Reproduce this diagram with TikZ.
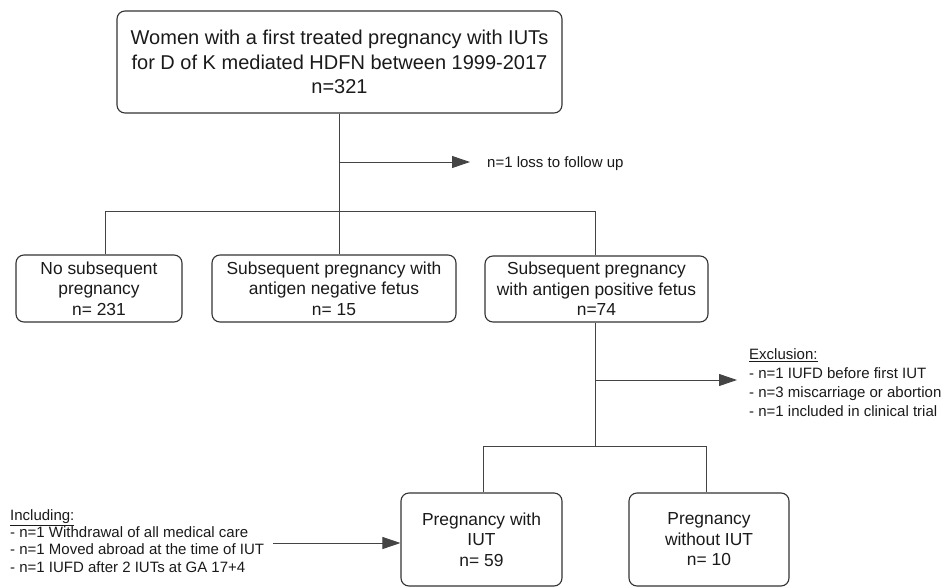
\documentclass[tikz,border=0pt]{standalone}
\usepackage{fontspec}
\setmainfont{Liberation Sans}
\usetikzlibrary{arrows.meta}
\definecolor{boxc}{HTML}{333333}
\definecolor{linec}{HTML}{444444}
\definecolor{txt}{HTML}{1A1A1A}
\begin{document}
\begin{tikzpicture}[x=1pt,y=-1pt,
  box/.style={draw=boxc, line width=1.1pt, rounded corners=8pt, align=center, inner sep=0pt, text=txt},
  big/.style={font=\fontsize{20}{24.5}\selectfont},
  mid/.style={font=\fontsize{17.4}{20.5}\selectfont},
  small/.style={font=\fontsize{15}{17}\selectfont, text=txt, inner sep=0pt, anchor=base west},
  conn/.style={draw=linec, line width=0.9pt},
  arr/.style={conn, -{Triangle[length=18pt,width=12pt]}},
]
\useasboundingbox (0,0) rectangle (946,587);

% boxes
\node[box,big,minimum width=445pt,minimum height=102pt] (top) at (339.5,62)
  {Women with a first treated pregnancy with IUTs\\for D of K mediated HDFN between 1999-2017\\n=321};
\node[box,mid,minimum width=166pt,minimum height=67pt] (b1) at (99,288.5)
  {No subsequent\\pregnancy\\n= 231};
\node[box,mid,minimum width=244pt,minimum height=67pt] (b2) at (334,288.5)
  {Subsequent pregnancy with\\antigen negative fetus\\n= 15};
\node[box,mid,minimum width=223pt,minimum height=66pt] (b3) at (596.5,289)
  {Subsequent pregnancy\\with antigen positive fetus\\n=74};
\node[box,mid,minimum width=161pt,minimum height=93pt] (b4) at (481.5,539.5)
  {Pregnancy with\\IUT\\n= 59};
\node[box,mid,minimum width=160pt,minimum height=93pt] (b5) at (709,539.5)
  {Pregnancy\\without IUT\\n= 10};

% side texts
\node[small] (loss) at (487,167.4) {n=1 loss to follow up};
\node[small] (ex0) at (749,359.4) {\underline{Exclusion:}};
\node[small] (ex1) at (749,378.4) {- n=1 IUFD before first IUT};
\node[small] (ex2) at (749,397.4) {- n=3 miscarriage or abortion};
\node[small] (ex3) at (749,416.4) {- n=1 included in clinical trial};
\node[small] (in0) at (10,520.4) {\underline{Including:}};
\node[small] (in1) at (10,537.7) {- n=1 Withdrawal of all medical care};
\node[small] (in2) at (10,554.7) {- n=1 Moved abroad at the time of IUT};
\node[small] (in3) at (10,572.1) {- n=1 IUFD after 2 IUTs at GA 17+4};

% junction coordinates
\coordinate (lossp) at (339,162);
\coordinate (lossend) at (470,162);
\coordinate (j1) at (105,211);
\coordinate (j2) at (339,211);
\coordinate (j3) at (595,211);
\coordinate (exp) at (595,380);
\coordinate (exend) at (737,380);
\coordinate (k0) at (595,446);
\coordinate (k1) at (483,446);
\coordinate (k2) at (706,446);
\coordinate (incstart) at (273,543);

% connectors
\draw[conn] (top.south -| j2) -- (j2);
\draw[arr] (lossp) -- (lossend);
\draw[conn] (j1) -- (j3);
\draw[conn] (j1) -- (j1 |- b1.north);
\draw[conn] (j3) -- (j3 |- b3.north);
\draw[conn] (j2) -- (j2 |- b2.north);
\draw[conn] (b3.south -| k0) -- (k0);
\draw[arr] (exp) -- (exend);
\draw[conn] (k1) -- (k2);
\draw[conn] (k1) -- (k1 |- b4.north);
\draw[conn] (k2) -- (k2 |- b5.north);
\draw[arr] (incstart) -- (incstart -| b4.west);
\end{tikzpicture}
\end{document}
